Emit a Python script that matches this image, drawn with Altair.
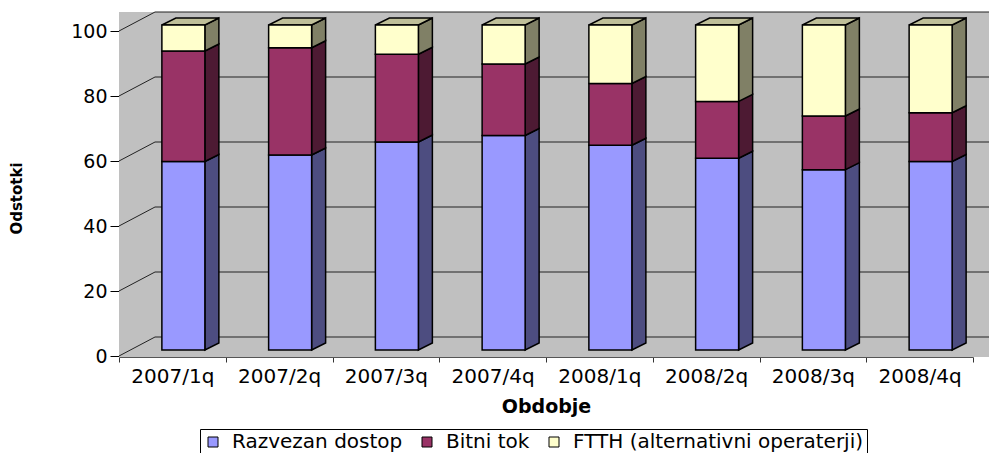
import altair as alt
import pandas as pd

periods = ["2007/1q", "2007/2q", "2007/3q", "2007/4q",
           "2008/1q", "2008/2q", "2008/3q", "2008/4q"]
series_names = ["Razvezan dostop", "Bitni tok", "FTTH (alternativni operaterji)"]
razvezan = [58, 60, 64, 66, 63, 59, 55.5, 58]
bitni = [34, 33, 27, 22, 19, 17.5, 16.5, 15]
ftth = [8, 7, 9, 12, 18, 23.5, 28, 27]

front_colors = ["#9999FF", "#993366", "#FFFFCC"]
side_colors = ["#4D4D80", "#4D1A33", "#808066"]
top_color = "#BFBF99"
grid_values = [0, 20, 40, 60, 80, 100]

W, H = 854, 325
BAND = W / len(periods)
BAR_W = 43
BAR_SHIFT = 11
DX, DY = 14, 7
depth_val = DY / H * 100

rows, side_rows, top_rows = [], [], []
for i, p in enumerate(periods):
    lo = 0.0
    fl = BAND / 2 + BAR_SHIFT - BAR_W / 2
    fr = BAND / 2 + BAR_SHIFT + BAR_W / 2
    for k, (s, vals) in enumerate(zip(series_names, [razvezan, bitni, ftth])):
        hi = lo + vals[i]
        rows.append(dict(period=p, series=s, lo=lo, hi=hi, order=k))
        key = f"{p}|{s}"
        side_rows.append(dict(period=p, key=key, px=fr, ylo=lo, yhi=hi, fill=side_colors[k]))
        side_rows.append(dict(period=p, key=key, px=fr + DX, ylo=lo + depth_val,
                              yhi=hi + depth_val, fill=side_colors[k]))
        lo = hi
    for px, yt, yb in [(fl, 100, 100), (fl + DX, 100 + depth_val, 100),
                       (fr, 100 + depth_val, 100), (fr + DX, 100 + depth_val, 100 + depth_val)]:
        top_rows.append(dict(period=p, key=p, px=px, yt=yt, yb=yb))

seg = pd.DataFrame(rows)
side = pd.DataFrame(side_rows)
top = pd.DataFrame(top_rows)
grid = pd.DataFrame({"v": grid_values})

xscale = alt.Scale(domain=periods, paddingInner=0, paddingOuter=0)
yscale = alt.Scale(domain=[0, 100], nice=False)
off_scale = alt.Scale(domain=[0, 100], range=[0, 100])

x_axis = alt.Axis(title="Obdobje", tickBand="extent", labelAngle=0, offset=7,
                  tickSize=5, tickColor="#333333", domainColor="#555555",
                  labelFontSize=20, labelPadding=4, labelColor="black",
                  titleFontSize=19, titleFontWeight="bold", titlePadding=11,
                  titleColor="black", grid=False)
y_axis = alt.Axis(title="Odstotki", values=grid_values, tickSize=9, tickColor="black",
                  domainColor="#666666", labelFontSize=19, labelPadding=3,
                  labelColor="black", tickOffset=6, grid=False,
                  titleFontSize=15, titleFontWeight="bold", titleColor="black",
                  titleX=-95, titleY=173)

bg = alt.Chart(grid).mark_rect(color="#C0C0C0", yOffset=-13, y2Offset=7).encode(
    x=alt.value(0), x2=alt.value(W + 16),
    y=alt.datum(100, scale=yscale), y2=alt.datum(0)
)

gridlines = alt.Chart(grid).mark_rule(color="#222222", strokeWidth=1, yOffset=-13).encode(
    x=alt.value(36), x2=alt.value(W + 16),
    y=alt.Y("v:Q", scale=yscale)
)

connectors = alt.Chart(grid).mark_rule(color="#222222", strokeWidth=1, yOffset=6,
                                       y2Offset=-13).encode(
    x=alt.value(0), x2=alt.value(36),
    y=alt.Y("v:Q", scale=yscale), y2="v:Q"
)

side_faces = alt.Chart(side).mark_area(stroke="black", strokeWidth=1.5,
                                       interpolate="linear", opacity=1).encode(
    x=alt.X("period:N", scale=xscale, axis=x_axis, sort=periods),
    xOffset=alt.XOffset("px:Q", scale=off_scale),
    y=alt.Y("yhi:Q", scale=yscale, axis=y_axis),
    y2="ylo:Q",
    detail="key:N",
    fill=alt.Fill("fill:N", scale=None),
)

top_faces = alt.Chart(top).mark_area(stroke="black", strokeWidth=1.5, fill=top_color,
                                     interpolate="linear").encode(
    x=alt.X("period:N", scale=xscale, sort=periods),
    xOffset=alt.XOffset("px:Q", scale=off_scale),
    y=alt.Y("yt:Q", scale=yscale),
    y2="yb:Q",
    detail="key:N",
)

front = alt.Chart(seg).mark_bar(size=BAR_W, xOffset=BAR_SHIFT, stroke="black",
                                strokeWidth=1.5).encode(
    x=alt.X("period:N", scale=xscale, sort=periods),
    y=alt.Y("lo:Q", scale=yscale),
    y2="hi:Q",
    color=alt.Color("series:N",
                    scale=alt.Scale(domain=series_names, range=front_colors),
                    legend=alt.Legend(title=None, orient="none", legendX=81, legendY=404,
                                      direction="horizontal", symbolType="square",
                                      symbolSize=100, symbolStrokeColor="black",
                                      symbolStrokeWidth=1, labelFontSize=20,
                                      labelColor="black", strokeColor="black",
                                      fillColor="white", padding=3, columnPadding=14,
                                      labelOffset=9, labelLimit=500)),
    order=alt.Order("order:Q"),
)

chart = alt.layer(bg, connectors, gridlines, side_faces, top_faces, front).properties(
    width=W, height=H,
    autosize=alt.AutoSizeParams(type="none"),
    padding={"left": 111, "top": 17, "right": 16, "bottom": 103},
).configure(font="DejaVu Sans").configure_view(stroke=None)

chart.save("out.html", embed_options={"renderer": "svg", "actions": False})
